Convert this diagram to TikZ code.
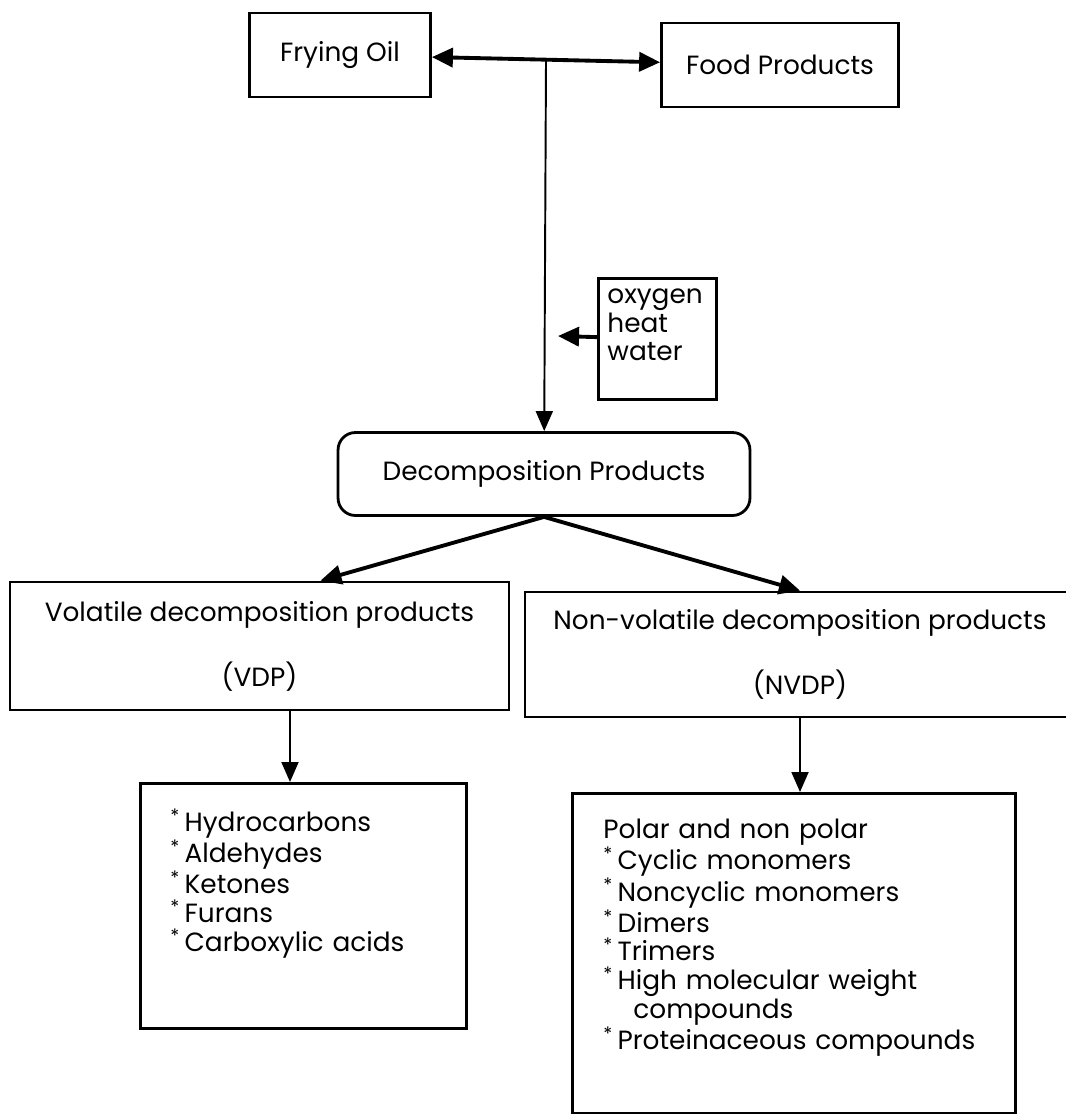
\documentclass[tikz,border=0pt]{standalone}
\usepackage{fontspec}
\setmainfont{Poppins}
\usetikzlibrary{arrows.meta}

\newcommand{\itm}{\textsuperscript{*}\,}

\begin{document}
\begin{tikzpicture}[x=0.02cm, y=-0.02cm,
    font=\fontsize{15}{16.3}\selectfont,
    box/.style={rectangle, draw, line width=1.6pt, inner sep=0pt},
    listbox/.style={box, anchor=north west, align=left, text height=0.4cm},
    thickarrow/.style={line width=2.2pt, -{Triangle[length=0.42cm, width=0.38cm]}},
    thinarrow/.style={line width=1.1pt, -{Triangle[length=0.4cm, width=0.34cm]}}]
    \useasboundingbox (0,0) rectangle (1065,1114);

    % top row
    \node[box, minimum width=3.62cm, minimum height=1.68cm] (oil) at (340,55) {Frying Oil};
    \node[box, minimum width=4.74cm, minimum height=1.68cm] (food) at (780,65) {Food Products};
    \draw[thickarrow, {Triangle[length=0.42cm, width=0.38cm]}-{Triangle[length=0.42cm, width=0.38cm]}] (oil) -- (food);
    \coordinate (split) at (546,60);

    % conditions
    \node[listbox, text width=2.0cm, inner xsep=0.18cm, inner ysep=0.1cm, text depth=1.82cm] (air) at (597,277) {oxygen\\heat\\water};
    \coordinate (airin) at (558,336);
    \draw[thickarrow] (air) -- (airin);

    \node[box, rounded corners=0.35cm, minimum width=8.24cm, minimum height=1.66cm] (decomp) at (544,474) {Decomposition Products};
    \draw[thinarrow] (split) -- (decomp);

    % two kinds of products
    \node[box, minimum width=9.98cm, minimum height=2.56cm, align=center] (vdp) at (259.5,646) {Volatile decomposition products\\[18pt](VDP)};
    \node[box, minimum width=11cm, minimum height=2.5cm, align=center] (nvdp) at (800,654.5) {Non-volatile decomposition products\\[18pt](NVDP)};
    \draw[thickarrow] (decomp.south) -- (vdp.47);
    \draw[thickarrow] (decomp.south) -- (nvdp.north);

    % lists
    \node[listbox, text width=5.32cm, inner xsep=0.6cm, inner ysep=0.56cm, text depth=3.38cm] (vdplist) at (139,782) {
        \itm Hydrocarbons\\
        \itm Aldehydes\\
        \itm Ketones\\
        \itm Furans\\
        \itm Carboxylic acids};
    \node[listbox, text width=7.62cm, inner xsep=0.62cm, inner ysep=0.5cm, text depth=5.0cm] (nvdplist) at (571,792) {
        Polar and non polar\\
        \itm Cyclic monomers\\
        \itm Noncyclic monomers\\
        \itm Dimers\\
        \itm Trimers\\
        \itm High molecular weight\\
        \hspace*{0.6cm}compounds\\
        \itm Proteinaceous compounds};

    \draw[thinarrow] (vdp.-65) -- (vdp.-65 |- vdplist.north);
    \draw[thinarrow] (nvdp.south) -- (nvdp.south |- nvdplist.north);
\end{tikzpicture}
\end{document}
